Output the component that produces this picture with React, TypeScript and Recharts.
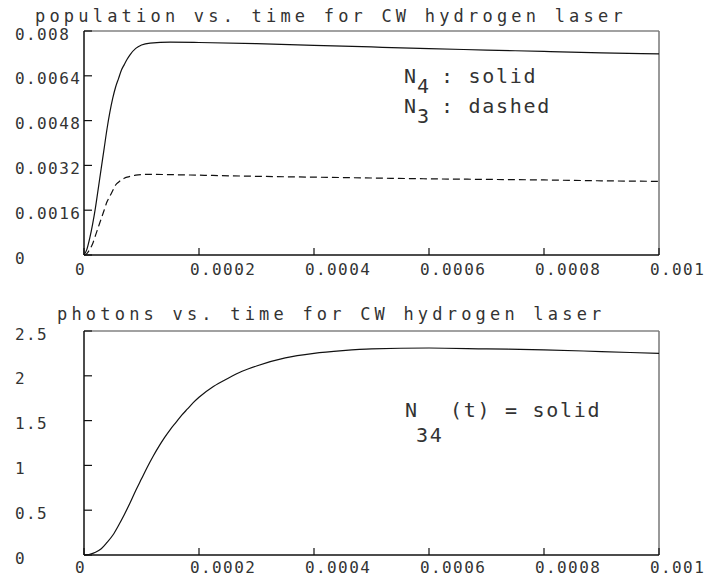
import React from "react";
import { LineChart, Line, XAxis, YAxis, ReferenceLine } from "recharts";

// time axis shared by both panels (seconds)
const timeTicks = [0, 0.0002, 0.0004, 0.0006, 0.0008, 0.001];

// top panel: populations
const popTime = [
  0, 0.000005, 0.00001, 0.000015, 0.00002, 0.000025, 0.00003, 0.000035, 0.00004,
  0.000045, 0.00005, 0.000055, 0.00006, 0.000065, 0.00007, 0.000075, 0.00008,
  0.00009, 0.0001, 0.000115, 0.00015, 0.0002, 0.0003, 0.0004, 0.0005, 0.0006,
  0.0007, 0.0008, 0.0009, 0.001,
];
const n4 = [
  0, 0.0002, 0.0006, 0.0011, 0.0017, 0.0024, 0.0031, 0.0038, 0.0045,
  0.0051, 0.0056, 0.006, 0.0063, 0.0066, 0.0068, 0.00699, 0.00715,
  0.00738, 0.0075, 0.00757, 0.0076, 0.00759, 0.00755, 0.00749, 0.00743, 0.00737,
  0.00732, 0.00727, 0.00722, 0.00718,
];
const n3 = [
  0, 0.00005, 0.0002, 0.0004, 0.0007, 0.001, 0.0013, 0.0016, 0.0019,
  0.0021, 0.0023, 0.0025, 0.0026, 0.00268, 0.00274, 0.00278, 0.00281,
  0.00285, 0.00287, 0.00288, 0.00287, 0.00285, 0.00281, 0.00278, 0.00275, 0.00272,
  0.0027, 0.00268, 0.00265, 0.00263,
];
const popTicks = [0, 0.0016, 0.0032, 0.0048, 0.0064, 0.008];

// bottom panel: photons
const photonTime = [
  0, 0.00001, 0.00002, 0.00003, 0.00004, 0.00005, 0.00006, 0.00007, 0.00008,
  0.00009, 0.0001, 0.00011, 0.00012, 0.00013, 0.00014, 0.00015, 0.00016,
  0.00017, 0.00018, 0.00019, 0.0002, 0.000225, 0.00025, 0.000275, 0.0003,
  0.00035, 0.0004, 0.00045, 0.0005, 0.0006, 0.0007, 0.0008, 0.0009, 0.001,
];
const n34 = [
  0, 0.008, 0.03, 0.07, 0.14, 0.22, 0.33, 0.45, 0.58,
  0.72, 0.85, 0.98, 1.1, 1.21, 1.31, 1.4, 1.48,
  1.56, 1.63, 1.7, 1.76, 1.88, 1.97, 2.05, 2.11,
  2.2, 2.25, 2.28, 2.3, 2.31, 2.3, 2.29, 2.27, 2.25,
];
const photonTicks = [0, 0.5, 1, 1.5, 2, 2.5];

const popData = popTime.map((t, i) => ({ t, n4: n4[i], n3: n3[i] }));
const photonData = photonTime.map((t, i) => ({ t, n34: n34[i] }));

const mono = "'DejaVu Sans Mono', 'Liberation Mono', monospace";
const tickFont: React.CSSProperties = {
  fontFamily: mono,
  fontSize: 16,
  letterSpacing: 1.4,
  fill: "#333",
};
const titleFont: React.CSSProperties = {
  fontFamily: mono,
  fontSize: 17,
  letterSpacing: 4.2,
  fill: "#333",
};
const noteFont: React.CSSProperties = {
  fontFamily: mono,
  fontSize: 20,
  letterSpacing: 1.7,
  fill: "#333",
};

const PLOT_LEFT = 84;

function makeXTick(axisY: number, labelDy: number) {
  return (props: any) => {
    const { payload } = props;
    const x = payload.coordinate ?? props.x;
    return (
      <g>
        <line x1={x} x2={x} y1={axisY} y2={axisY - 7} stroke="#111" strokeWidth={1.2} />
        <text x={x - 9} y={axisY + labelDy} textAnchor="start" dominantBaseline="central" style={tickFont}>
          {String(payload.value)}
        </text>
      </g>
    );
  };
}

function YTick(props: any) {
  const { payload } = props;
  const y = payload.coordinate ?? props.y;
  return (
    <g>
      <line x1={PLOT_LEFT} x2={PLOT_LEFT + 8} y1={y} y2={y} stroke="#111" strokeWidth={1.2} />
      <text x={15} y={y + 3} textAnchor="start" dominantBaseline="central" style={tickFont}>
        {String(payload.value)}
      </text>
    </g>
  );
}

export default function App() {
  return (
    <div style={{ position: "absolute", left: 0, top: 0, width: 704, height: 581, background: "#fff" }}>
      <div style={{ position: "absolute", left: 0, top: 0 }}>
        <LineChart width={704} height={290} data={popData} margin={{ top: 31, right: 45, bottom: 0, left: 0 }}>
          <XAxis
            dataKey="t"
            type="number"
            domain={[0, 0.001]}
            ticks={timeTicks}
            height={35}
            axisLine={{ stroke: "#111", strokeWidth: 1.5 }}
            tickLine={false}
            tick={makeXTick(255, 14)}
            interval={0}
          />
          <YAxis
            type="number"
            domain={[0, 0.008]}
            ticks={popTicks}
            width={84}
            axisLine={{ stroke: "#111", strokeWidth: 1.5 }}
            tickLine={false}
            tick={YTick}
            interval={0}
          />
          <ReferenceLine y={0.008} stroke="#444" strokeWidth={1.2} />
          <ReferenceLine x={0.001} stroke="#777" strokeWidth={1.5} />
          <Line dataKey="n4" type="monotone" stroke="#111" strokeWidth={1.2} dot={false} isAnimationActive={false} />
          <Line
            dataKey="n3"
            type="monotone"
            stroke="#111"
            strokeWidth={1.2}
            strokeDasharray="7 4"
            dot={false}
            isAnimationActive={false}
          />
        </LineChart>
      </div>
      <div style={{ position: "absolute", left: 0, top: 290 }}>
        <LineChart width={704} height={291} data={photonData} margin={{ top: 41, right: 45, bottom: 0, left: 0 }}>
          <XAxis
            dataKey="t"
            type="number"
            domain={[0, 0.001]}
            ticks={timeTicks}
            height={26}
            axisLine={{ stroke: "#111", strokeWidth: 1.5 }}
            tickLine={false}
            tick={makeXTick(265, 12)}
            interval={0}
          />
          <YAxis
            type="number"
            domain={[0, 2.5]}
            ticks={photonTicks}
            width={84}
            axisLine={{ stroke: "#111", strokeWidth: 1.5 }}
            tickLine={false}
            tick={YTick}
            interval={0}
          />
          <ReferenceLine y={2.5} stroke="#444" strokeWidth={1.2} />
          <ReferenceLine x={0.001} stroke="#777" strokeWidth={1.5} />
          <Line dataKey="n34" type="monotone" stroke="#111" strokeWidth={1.2} dot={false} isAnimationActive={false} />
        </LineChart>
      </div>
      <svg
        width={704}
        height={581}
        style={{ position: "absolute", left: 0, top: 0, pointerEvents: "none" }}
      >
        <text x={35} y={22} style={titleFont}>population vs. time for CW hydrogen laser</text>
        <text x={57} y={320} style={titleFont}>photons vs. time for CW hydrogen laser</text>

        <text x={404} y={83} style={noteFont}>N</text>
        <text x={417} y={93} style={noteFont}>4</text>
        <text x={441} y={83} style={noteFont}>: solid</text>
        <text x={404} y={113} style={noteFont}>N</text>
        <text x={417} y={123} style={noteFont}>3</text>
        <text x={441} y={113} style={noteFont}>: dashed</text>

        <text x={405} y={417} style={noteFont}>N</text>
        <text x={416} y={442} style={noteFont}>34</text>
        <text x={450} y={417} style={noteFont}>(t) = solid</text>
      </svg>
    </div>
  );
}
